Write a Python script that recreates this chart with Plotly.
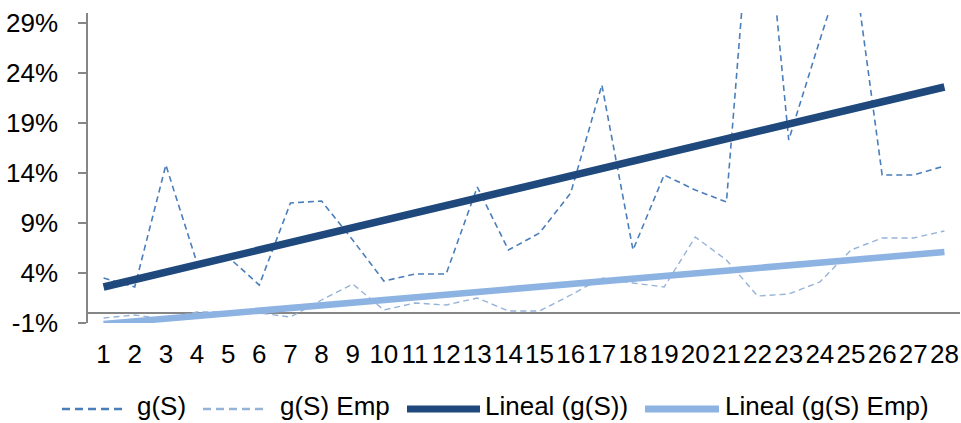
import plotly.graph_objects as go

periods = list(range(1, 29))
g_s = [3.5, 2.6, 14.8, 5.0, 5.6, 2.8, 11.0, 11.2, 7.3, 3.2, 3.9, 3.9, 12.6, 6.3,
       8.0, 12.0, 22.8, 6.3, 13.8, 12.3, 11.1, 50.0, 17.3, 27.3, 37.0, 13.8, 13.8, 14.7]
g_s_emp = [-0.5, -0.2, -0.6, 0.1, 0.1, 0.0, -0.4, 1.3, 2.9, 0.3, 1.0, 0.8, 1.5, 0.2,
           0.2, 1.8, 3.5, 3.0, 2.6, 7.6, 5.3, 1.7, 1.9, 3.1, 6.3, 7.5, 7.5, 8.2]
trend_x = [1, 28]
trend_g_s = [2.6, 22.6]
trend_g_s_emp = [-1.1, 6.1]
y_ticks = [-1, 4, 9, 14, 19, 24, 29]
series_names = ["g(S)", "g(S) Emp", "Lineal (g(S))", "Lineal (g(S) Emp)"]

FONT = "Liberation Sans, Arial, sans-serif"
colors = ["#4a7ebb", "#95b3d7", "#1f497d", "#8db3e2"]

# plot area geometry (pixels) for the hand-made legend
L, T, W, H = 88, 13, 872, 310


def px_x(px):
    return (px - L) / W


def px_y(py):
    return (T + H - py) / H


fig = go.Figure()
fig.add_trace(go.Scatter(x=periods, y=g_s, mode="lines", name=series_names[0],
                         line=dict(color=colors[0], width=1.6, dash="6px,4px")))
fig.add_trace(go.Scatter(x=periods, y=g_s_emp, mode="lines", name=series_names[1],
                         line=dict(color=colors[1], width=1.4, dash="6px,4px")))
fig.add_trace(go.Scatter(x=trend_x, y=trend_g_s, mode="lines", name=series_names[2],
                         line=dict(color=colors[2], width=7.5)))
fig.add_trace(go.Scatter(x=trend_x, y=trend_g_s_emp, mode="lines", name=series_names[3],
                         line=dict(color=colors[3], width=6.5)))

# custom legend (long sample lines like the original)
line_y = px_y(409)
text_y = px_y(406)
samples = [(62, 125, 2.5, "8px,5px"), (203, 268, 2.5, "8px,5px"),
           (407, 480, 7, None), (645, 719, 7, None)]
text_x = [137, 280, 485, 725]
for i, (x0, x1, w, d) in enumerate(samples):
    line = dict(color=colors[i], width=w)
    if d:
        line["dash"] = d
    fig.add_shape(type="line", xref="paper", yref="paper",
                  x0=px_x(x0), x1=px_x(x1), y0=line_y, y1=line_y, line=line)
    fig.add_annotation(text=series_names[i], xref="paper", yref="paper",
                       x=px_x(text_x[i] - 1), y=text_y, xanchor="left", yanchor="middle",
                       showarrow=False, borderpad=0,
                       font=dict(family=FONT, size=26, color="black"))

fig.update_layout(
    width=961, height=423,
    margin=dict(l=L, r=961 - L - W, t=T, b=423 - T - H),
    paper_bgcolor="white", plot_bgcolor="white",
    font=dict(family=FONT, size=26, color="black"),
    showlegend=False,
    xaxis=dict(range=[0.5, 28.5], tickmode="array", tickvals=periods,
               ticktext=[str(p) for p in periods], tickangle=0,
               showline=False, showgrid=False, zeroline=False, ticks="",
               ticklabelstandoff=13, fixedrange=True),
    yaxis=dict(range=[-1, 30], tickmode="array", tickvals=y_ticks,
               ticktext=[f"{v}%" for v in y_ticks],
               showline=True, linecolor="#868686", linewidth=1.5,
               ticks="outside", ticklen=8, tickcolor="#868686", tickwidth=1.5,
               showgrid=False, zeroline=True, zerolinecolor="#868686", zerolinewidth=2,
               ticklabelstandoff=15, fixedrange=True),
)

fig.write_html("out.html")
